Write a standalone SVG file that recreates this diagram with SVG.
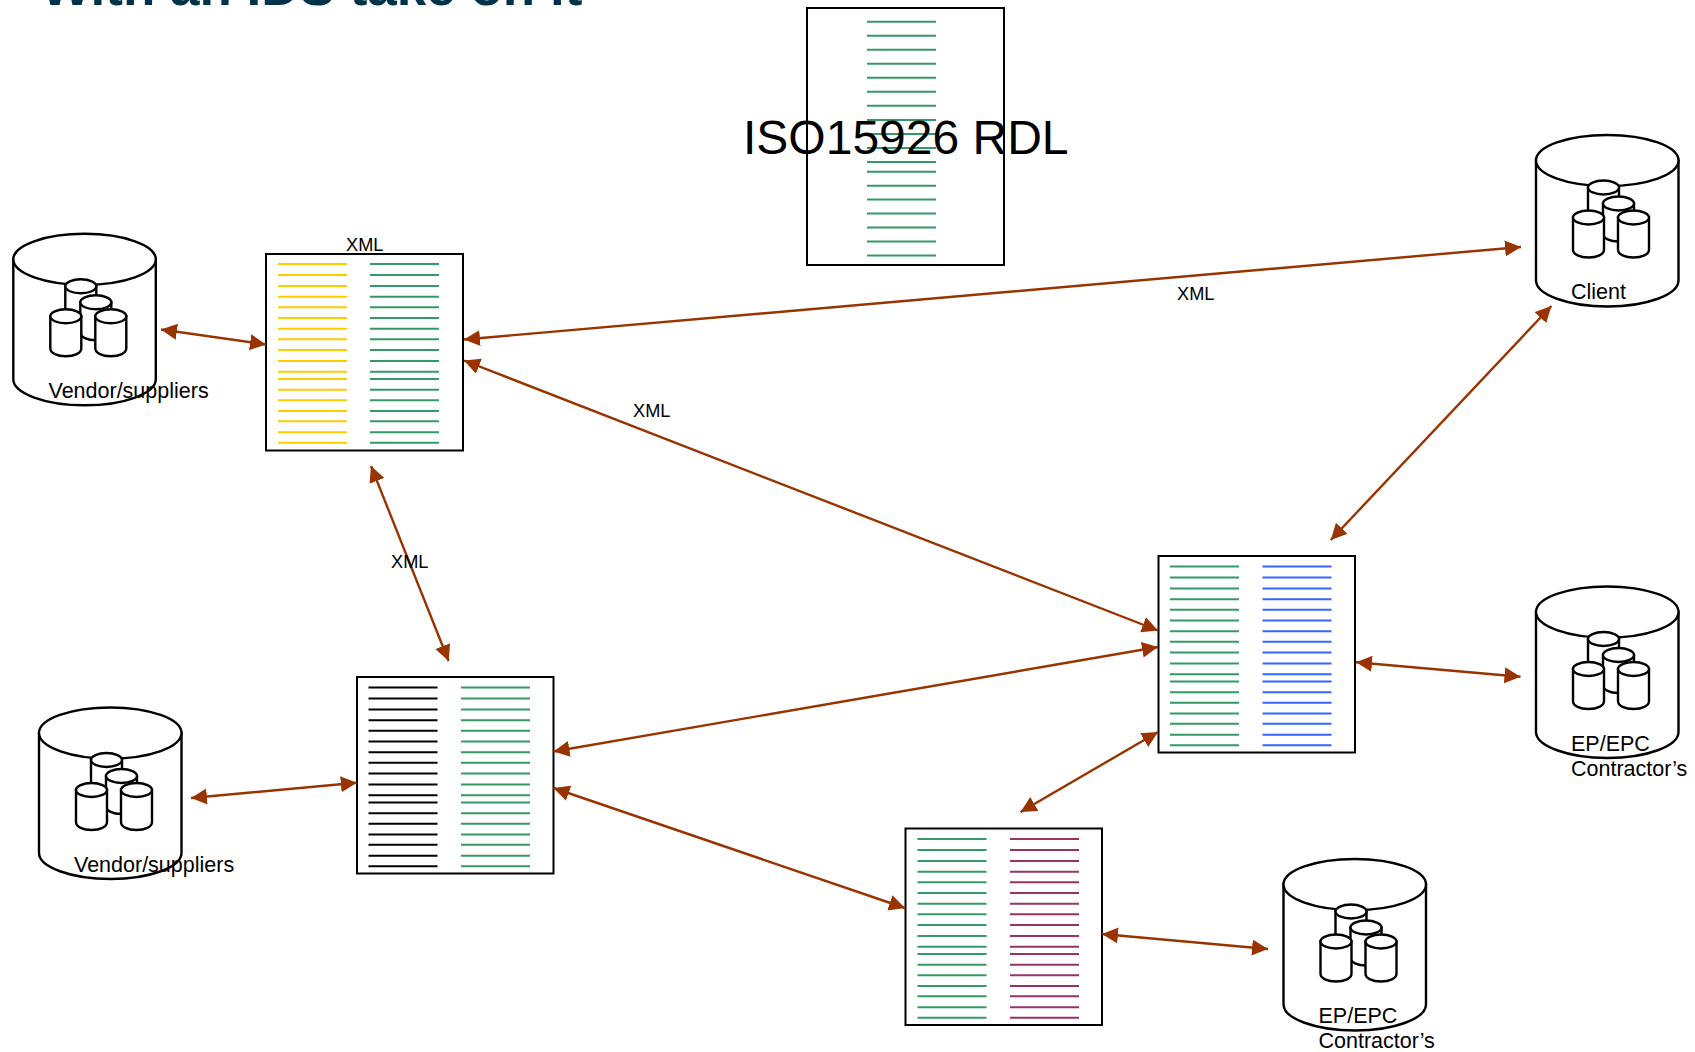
<svg xmlns="http://www.w3.org/2000/svg" xmlns:xlink="http://www.w3.org/1999/xlink" width="1695" height="1052" viewBox="0 0 1695 1052">
<style>
text{font-family:"Liberation Sans",Arial,sans-serif;fill:#000}
.lb{font-size:21.500px}
.xml{font-size:18.200px}
.title{font-size:53px;font-weight:700;fill:#003349}
.rdl{font-size:48px}
.doc{fill:#fff;stroke:#000;stroke-width:2}
.rows{fill:none;stroke-width:2}
.cyl path,.cyl ellipse{fill:#fff;stroke:#000;stroke-width:2.400}
.conn{stroke:#993300;stroke-width:2.400;fill:none;marker-start:url(#ah);marker-end:url(#ah)}
.g{stroke:#339966}.y{stroke:#FFCC00}.b{stroke:#3366FF}.p{stroke:#993366}.k{stroke:#000}
</style>
<defs>
<marker id="ah" markerUnits="userSpaceOnUse" markerWidth="17" markerHeight="17" refX="16" refY="8" orient="auto-start-reverse"><path d="M0 0L16 8L0 16z" fill="#993300"/></marker>
<path id="rows" d="M0 10.500h69M0 21.500h69M0 32.500h69M0 43.200h69M0 53.800h69M0 64.500h69M0 75.200h69M0 85.800h69M0 96.500h69M0 107.500h69M0 118.200h69M0 125.500h69M0 136.200h69M0 146.800h69M0 157.500h69M0 167.800h69M0 178.800h69M0 189.200h69"/>
<path id="rdlrows" d="M0 21.700h69M0 35.700h69M0 49.700h69M0 63.700h69M0 77.700h69M0 91.700h69M0 105.700h69M0 120h69M0 134h69M0 148h69M0 162h69M0 171.700h69M0 185.700h69M0 199.500h69M0 213.500h69M0 227.500h69M0 241.500h69M0 255.500h69"/>
<g id="cylinder" class="cyl">
<path d="M0 26V146C0 160 32 172 71.500 172S142.500 160 142.500 146V26z"/>
<ellipse cx="71.250" cy="26" rx="71.250" ry="25.500"/>
<path d="M52 53V91C52 96 59 99 67.500 99S83 96 83 91V53z"/>
<ellipse cx="67.500" cy="53" rx="15.500" ry="7"/>
<path d="M67 69V99C67 104 74 107 82.500 107S98 104 98 99V69z"/>
<ellipse cx="82.500" cy="69" rx="15.500" ry="7"/>
<path d="M37 83V115C37 120 44 123 52.500 123S68 120 68 115V83z"/>
<ellipse cx="52.500" cy="83" rx="15.500" ry="7"/>
<path d="M82 83V115C82 120 89 123 97.500 123S113 120 113 115V83z"/>
<ellipse cx="97.500" cy="83" rx="15.500" ry="7"/>
</g>
</defs>
<rect width="1695" height="1052" fill="#fff"/>
<text class="title" x="41" y="5">With an IDS take on it</text>
<g id="rdl-library">
<rect class="doc" x="807" y="8" width="197" height="257"/>
<use href="#rdlrows" class="rows g" x="867" y="0"/>
</g>
<g id="vendor-1"><use href="#cylinder" x="13.300" y="233.300"/></g>
<g id="vendor-2"><use href="#cylinder" x="39" y="707"/></g>
<g id="client"><use href="#cylinder" x="1536" y="134.500"/></g>
<g id="ep-1"><use href="#cylinder" x="1536" y="586"/></g>
<g id="ep-2"><use href="#cylinder" x="1283.500" y="858.500"/></g>
<g id="doc-vendor-1">
<rect class="doc" x="266" y="254" width="197" height="196.500"/>
<use href="#rows" class="rows y" x="278" y="253.500"/>
<use href="#rows" class="rows g" x="370" y="253.500"/>
</g>
<g id="doc-vendor-2">
<rect class="doc" x="357" y="677" width="196.500" height="196.500"/>
<use href="#rows" class="rows k" x="368.500" y="677"/>
<use href="#rows" class="rows g" x="461" y="677"/>
</g>
<g id="doc-ep-1">
<rect class="doc" x="1158.500" y="556" width="196.500" height="196.500"/>
<use href="#rows" class="rows g" x="1170" y="556"/>
<use href="#rows" class="rows b" x="1262.500" y="556"/>
</g>
<g id="doc-ep-2">
<rect class="doc" x="905.500" y="828.500" width="196.500" height="196.500"/>
<use href="#rows" class="rows g" x="917.500" y="828.500"/>
<use href="#rows" class="rows p" x="1010" y="828.500"/>
</g>
<g id="connectors">
<path class="conn" d="M161 329.500L266 344.500"/>
<path class="conn" d="M464 339.500L1521 247"/>
<path class="conn" d="M464 360.500L1158 630.500"/>
<path class="conn" d="M371 466L448.600 661"/>
<path class="conn" d="M1551.400 306L1330.800 540"/>
<path class="conn" d="M553.500 751.500L1158 647"/>
<path class="conn" d="M553.500 788L905 908"/>
<path class="conn" d="M191 798L356.800 782.700"/>
<path class="conn" d="M1158 732L1020.500 812"/>
<path class="conn" d="M1356 662.300L1520.500 676.700"/>
<path class="conn" d="M1102 934L1268 949"/>
</g>
<g id="labels">
<text class="rdl" x="743" y="154">ISO15926 RDL</text>
<text class="lb" x="48.500" y="398">Vendor/suppliers</text>
<text class="lb" x="74" y="872">Vendor/suppliers</text>
<text class="lb" x="1571" y="299">Client</text>
<text class="lb" x="1571" y="751">EP/EPC</text>
<text class="lb" x="1571" y="776">Contractor’s</text>
<text class="lb" x="1318.500" y="1023">EP/EPC</text>
<text class="lb" x="1318.500" y="1048">Contractor’s</text>
<text class="xml" x="346" y="251">XML</text>
<text class="xml" x="1177" y="300">XML</text>
<text class="xml" x="633" y="417">XML</text>
<text class="xml" x="391" y="568">XML</text>
</g>
</svg>
